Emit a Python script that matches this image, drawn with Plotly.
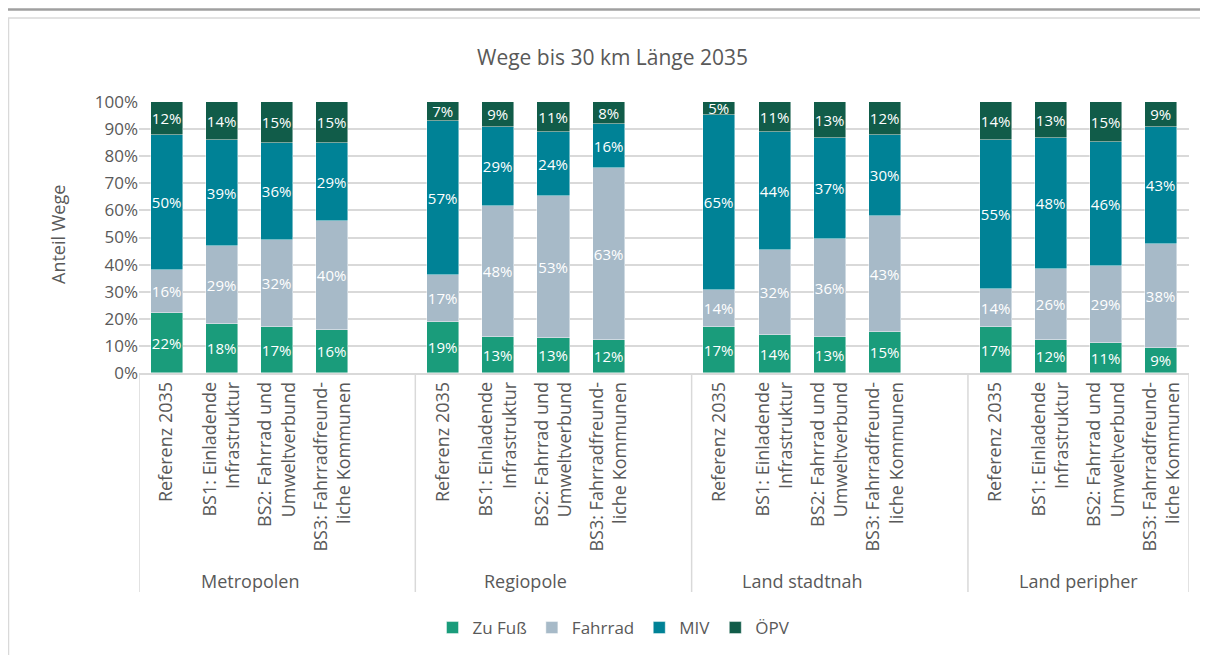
import plotly.graph_objects as go

# ---- data ----
groups = ["Metropolen", "Regiopole", "Land stadtnah", "Land peripher"]
scenarios = ["Referenz 2035", "BS1: Einladende<br>Infrastruktur",
             "BS2: Fahrrad und<br>Umweltverbund", "BS3: Fahrradfreund-<br>liche Kommunen"]
series_names = ["Zu Fuß", "Fahrrad", "MIV", "ÖPV"]

zu_fuss = [22, 18, 17, 16, 19, 13, 13, 12, 17, 14, 13, 15, 17, 12, 11, 9]
fahrrad = [16, 29, 32, 40, 17, 48, 53, 63, 14, 32, 36, 43, 14, 26, 29, 38]
miv     = [50, 39, 36, 29, 57, 29, 24, 16, 65, 44, 37, 30, 55, 48, 46, 43]
oepv    = [12, 14, 15, 15, 7, 9, 11, 8, 5, 11, 13, 12, 14, 13, 15, 9]

colors = ["#1a9c7b", "#a7bac8", "#008296", "#115c49"]

# ---- positions: 4 categories per group, one blank slot between groups ----
xpos = []
for g in range(len(groups)):
    for s in range(len(scenarios)):
        xpos.append(g * 5 + s)
ticktext = scenarios * len(groups)

series = [zu_fuss, fahrrad, miv, oepv]
totals = [sum(v[i] for v in series) for i in range(len(xpos))]

FONT = "Open Sans"
grey = "#595959"
line_col = "#d9d9d9"

fig = go.Figure()
for name, vals, col in zip(series_names, series, colors):
    fig.add_trace(go.Bar(
        x=xpos,
        y=[v / t * 100 for v, t in zip(vals, totals)],
        name=name,
        marker=dict(color=col, line=dict(color="rgba(255,255,255,0.6)", width=0.75)),
        width=0.58,
        text=[f"{v}%" for v in vals],
        textposition="inside",
        insidetextanchor="middle",
        textangle=0,
        textfont=dict(color="white", size=15, family=FONT),
        hoverinfo="skip",
    ))

# page body has an 8px margin; compensate so the plot sits where the reference has it
OFF = 8
W, H = 1208, 655
L, R, T, B = 139 - OFF, W - 1189 + OFF, 102 - OFF, H - 373 + OFF
plot_w = W - L - R
plot_h = H - T - B


def px_x(px):
    return (px - OFF - L) / plot_w


def px_y(py):
    return (H - B - (py - OFF)) / plot_h


shapes = []
# group dividers
for b in [-0.5, 4.5, 9.5, 14.5, 18.5]:
    shapes.append(dict(type="line", xref="x", yref="paper", x0=b, x1=b, y0=0, y1=px_y(592),
                       line=dict(color=line_col, width=1.5)))
# chart border
shapes.append(dict(type="rect", xref="paper", yref="paper", x0=px_x(8.5), x1=px_x(1230),
                   y0=px_y(700), y1=px_y(18),
                   line=dict(color=line_col, width=1.5), layer="below"))
# heading rule
shapes.append(dict(type="line", xref="paper", yref="paper", x0=px_x(-20), x1=px_x(1230),
                   y0=px_y(9.5), y1=px_y(9.5),
                   line=dict(color="#a0a0a0", width=2.5)))

annotations = []
for g, name in enumerate(groups):
    annotations.append(dict(x=g * 5 + 1.5, xref="x", y=px_y(581), yref="paper", text=name,
                            showarrow=False, font=dict(size=18, color=grey, family=FONT),
                            xanchor="center", yanchor="middle"))
annotations.append(dict(x=px_x(58), xref="paper", y=px_y(235), yref="paper", text="Anteil Wege",
                        textangle=-90, showarrow=False,
                        font=dict(size=18, color=grey, family=FONT),
                        xanchor="center", yanchor="middle"))
annotations.append(dict(x=px_x(612), xref="paper", y=px_y(57), yref="paper",
                        text="Wege bis 30 km Länge 2035", showarrow=False,
                        font=dict(size=21, color=grey, family=FONT),
                        xanchor="center", yanchor="middle"))

fig.update_layout(
    width=W, height=H,
    margin=dict(l=L, r=R, t=T, b=B),
    paper_bgcolor="white", plot_bgcolor="white",
    barmode="stack",
    bargap=0,
    font=dict(family=FONT, color=grey),
    uniformtext=dict(mode="show", minsize=15),
    showlegend=True,
    legend=dict(orientation="h", x=px_x(614), xanchor="center", y=px_y(628), yanchor="middle",
                font=dict(size=17, color=grey, family=FONT), traceorder="normal",
                itemclick=False, itemwidth=30),
    shapes=shapes,
    annotations=annotations,
    xaxis=dict(range=[-0.5, 18.5], tickvals=xpos, ticktext=ticktext, tickangle=-90,
               tickfont=dict(size=18, color=grey, family=FONT),
               showline=True, linecolor=line_col, linewidth=1.5, ticks="", showgrid=False,
               zeroline=False, fixedrange=True),
    yaxis=dict(range=[0, 100], tickvals=list(range(0, 101, 10)),
               ticktext=[f"{v}%" for v in range(0, 101, 10)],
               tickfont=dict(size=17, color=grey, family=FONT),
               showgrid=True, gridcolor=line_col, gridwidth=1.5, zeroline=False,
               showline=False, ticks="", fixedrange=True),
)

fig.write_html("out.html")
